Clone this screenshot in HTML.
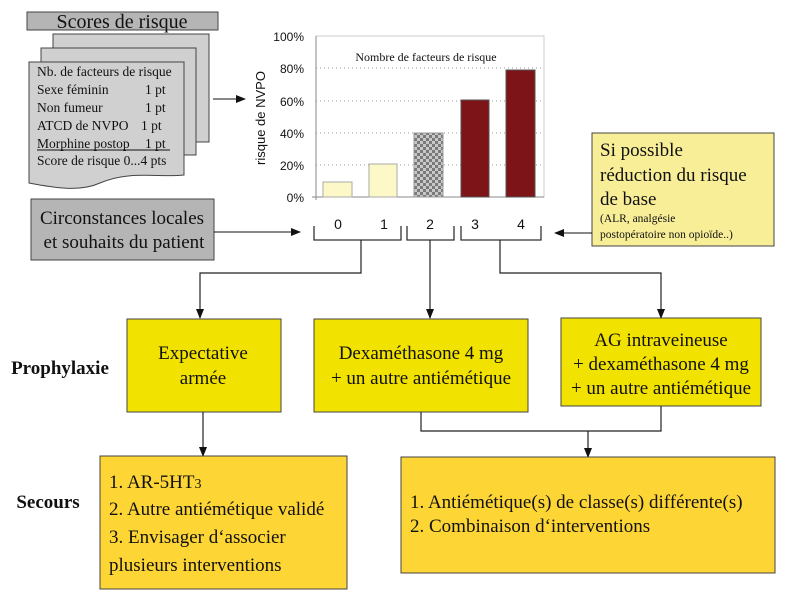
<!DOCTYPE html>
<html><head><meta charset="utf-8"><style>
html,body{margin:0;padding:0;background:#fff;}
svg{display:block;}
.s{font-family:"Liberation Serif",serif;fill:#111;}
.a{font-family:"Liberation Sans",sans-serif;fill:#111;}
</style></head><body>
<svg width="800" height="599" viewBox="0 0 800 599" xmlns="http://www.w3.org/2000/svg">
<defs>
<marker id="ar" markerWidth="10" markerHeight="10" refX="9" refY="5" orient="auto" markerUnits="userSpaceOnUse"><path d="M0,1 L10,5 L0,9 Z" fill="#111"/></marker>
<pattern id="chk" width="6" height="6" patternUnits="userSpaceOnUse"><rect width="6" height="6" fill="#c8c8c8"/><rect width="3" height="3" fill="#7a7a7a"/><rect x="3" y="3" width="3" height="3" fill="#7a7a7a"/></pattern>
</defs>
<!-- Scores header -->
<rect x="27" y="12" width="191" height="18" fill="#b5b5b5" stroke="#444" stroke-width="1"/>
<text x="122" y="28" class="s" font-size="20" text-anchor="middle">Scores de risque</text>
<!-- pages -->
<rect x="53" y="34" width="156" height="108" fill="#d0d0d0" stroke="#444"/>
<rect x="41" y="48" width="155" height="107" fill="#d0d0d0" stroke="#444"/>
<path d="M29,62 H184 V175 C160,178 130,170 100,183 C80,192 55,188 29,183 Z" fill="#d0d0d0" stroke="#444"/>
<g class="s" font-size="13.5">
<text x="37" y="76">Nb. de facteurs de risque</text>
<text x="37" y="94">Sexe féminin</text><text x="145" y="94">1  pt</text>
<text x="37" y="112">Non fumeur</text><text x="145" y="112">1  pt</text>
<text x="37" y="130">ATCD de NVPO</text><text x="141" y="130">1  pt</text>
<text x="37" y="148">Morphine postop</text><text x="145" y="148">1  pt</text>
<text x="37" y="165">Score de risque 0...4 pts</text>
</g>
<line x1="37" y1="150" x2="170" y2="150" stroke="#111" stroke-width="1"/>
<line x1="213" y1="99" x2="245" y2="99" stroke="#111" marker-end="url(#ar)"/>
<!-- Circonstances -->
<rect x="31" y="199" width="183" height="61" fill="#b5b5b5" stroke="#444"/>
<text x="122" y="224" class="s" font-size="19" text-anchor="middle">Circonstances locales</text>
<text x="124" y="248" class="s" font-size="19" text-anchor="middle">et souhaits du patient</text>
<line x1="214" y1="232" x2="300" y2="232" stroke="#111" marker-end="url(#ar)"/>
<!-- chart -->
<text transform="translate(265,118) rotate(-90)" class="a" font-size="13" text-anchor="middle">risque de NVPO</text>
<g class="a" font-size="12" text-anchor="end">
<text x="304" y="41">100%</text><text x="304" y="73">80%</text><text x="304" y="106">60%</text>
<text x="304" y="138">40%</text><text x="304" y="170">20%</text><text x="304" y="202">0%</text>
</g>
<rect x="316" y="36" width="228" height="161" fill="none" stroke="#ccc"/>
<g stroke="#999" stroke-dasharray="1,3">
<line x1="316" y1="68" x2="544" y2="68"/><line x1="316" y1="101" x2="544" y2="101"/>
<line x1="316" y1="133" x2="544" y2="133"/><line x1="316" y1="165" x2="544" y2="165"/>
</g>
<line x1="316" y1="36" x2="316" y2="200" stroke="#888"/>
<line x1="312" y1="197" x2="544" y2="197" stroke="#888"/>
<text x="426" y="61" class="s" font-size="12" text-anchor="middle">Nombre de facteurs de risque</text>
<rect x="323" y="182" width="29" height="15" fill="#fdf8c8" stroke="#aaa"/>
<rect x="369" y="164" width="28" height="33" fill="#fdf8c8" stroke="#aaa"/>
<rect x="414" y="133" width="29" height="64" fill="url(#chk)" stroke="#999"/>
<rect x="461" y="100" width="28" height="97" fill="#7d1418" stroke="#555"/>
<rect x="506" y="70" width="29" height="127" fill="#7d1418" stroke="#555"/>
<g class="a" font-size="14" text-anchor="middle">
<text x="338" y="229">0</text><text x="384" y="229">1</text><text x="430" y="229">2</text>
<text x="475" y="229">3</text><text x="521" y="229">4</text>
</g>
<g fill="none" stroke="#333" stroke-width="1.3">
<path d="M314,226 V240 H401 V226"/>
<path d="M407,226 V240 H454 V226"/>
<path d="M461,226 V240 H541 V226"/>
</g>
<!-- Si possible -->
<rect x="592" y="133" width="182" height="113" fill="#f8ee98" stroke="#444"/>
<g class="s" font-size="19"><text x="600" y="156">Si possible</text><text x="600" y="181">réduction du risque</text><text x="600" y="205">de base</text></g>
<g class="s" font-size="11.5"><text x="600" y="222">(ALR, analgésie</text><text x="600" y="238">postopératoire non opioïde..)</text></g>
<line x1="592" y1="233" x2="555" y2="233" stroke="#111" marker-end="url(#ar)"/>
<!-- connectors to prophylaxis -->
<g fill="none" stroke="#222" stroke-width="1.2">
<path d="M361,240 V273 H200 V318" marker-end="url(#ar)"/>
<path d="M430,240 V318" marker-end="url(#ar)"/>
<path d="M500,240 V273 H661 V318" marker-end="url(#ar)"/>
</g>
<!-- prophylaxie -->
<text x="60" y="374" class="s" font-size="19" font-weight="bold" text-anchor="middle">Prophylaxie</text>
<rect x="127" y="319" width="154" height="93" fill="#f2e200" stroke="#444"/>
<text x="203" y="359" class="s" font-size="19" text-anchor="middle">Expectative</text>
<text x="203" y="384" class="s" font-size="19" text-anchor="middle">armée</text>
<rect x="314" y="319" width="214" height="93" fill="#f2e200" stroke="#444"/>
<text x="421" y="359" class="s" font-size="19" text-anchor="middle">Dexaméthasone 4 mg</text>
<text x="421" y="384" class="s" font-size="19" text-anchor="middle">+ un autre antiémétique</text>
<rect x="561" y="318" width="200" height="88" fill="#f2e200" stroke="#444"/>
<text x="661" y="346" class="s" font-size="19" text-anchor="middle">AG intraveineuse</text>
<text x="661" y="370" class="s" font-size="19" text-anchor="middle">+ dexaméthasone 4 mg</text>
<text x="661" y="394" class="s" font-size="19" text-anchor="middle">+ un autre antiémétique</text>
<g fill="none" stroke="#222" stroke-width="1.2">
<path d="M203,412 V456" marker-end="url(#ar)"/>
<path d="M421,412 V431 H661 V406"/>
<path d="M588,431 V457" marker-end="url(#ar)"/>
</g>
<!-- secours -->
<text x="48" y="508" class="s" font-size="19" font-weight="bold" text-anchor="middle">Secours</text>
<rect x="100" y="456" width="247" height="133" fill="#fdd535" stroke="#444"/>
<g class="s" font-size="19">
<text x="109" y="488">1. AR-5HT<tspan font-size="14">3</tspan></text>
<text x="109" y="515">2. Autre antiémétique validé</text>
<text x="109" y="543">3. Envisager d‘associer</text>
<text x="109" y="571">plusieurs interventions</text>
</g>
<rect x="401" y="457" width="374" height="116" fill="#fdd535" stroke="#444"/>
<g class="s" font-size="19">
<text x="410" y="508">1. Antiémétique(s) de classe(s) différente(s)</text>
<text x="410" y="532">2. Combinaison d‘interventions</text>
</g>
</svg>
</body></html>
